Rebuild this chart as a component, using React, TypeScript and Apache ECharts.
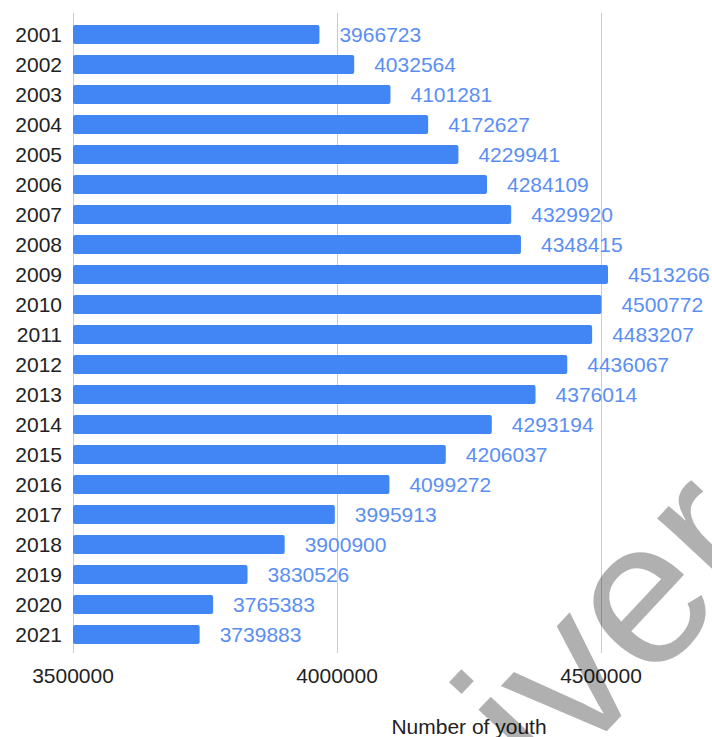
import React, { useEffect, useRef } from "react";
import * as echarts from "echarts";

const years = ["2001","2002","2003","2004","2005","2006","2007","2008","2009","2010","2011","2012","2013","2014","2015","2016","2017","2018","2019","2020","2021"];
const youth = [3966723,4032564,4101281,4172627,4229941,4284109,4329920,4348415,4513266,4500772,4483207,4436067,4376014,4293194,4206037,4099272,3995913,3900900,3830526,3765383,3739883];
const axisMin = 3500000;
const axisMax = 5000000;
const axisStep = 500000;
const axisTitle = "Number of youth";
const watermark = "iver";

const FONT = "'Liberation Sans', Arial, sans-serif";

export default function App() {
  const ref = useRef<HTMLDivElement>(null);
  useEffect(() => {
    if (!ref.current) return;
    const chart = echarts.init(ref.current, null, { renderer: "svg" });
    chart.setOption({
      animation: false,
      backgroundColor: "#ffffff",
      textStyle: { fontFamily: FONT },
      grid: [
        { left: 73, right: -153, top: 13, bottom: 84, outerBoundsMode: "none", containLabel: false },
        { left: 73, right: -153, top: 19.5, bottom: 87.5, outerBoundsMode: "none", containLabel: false },
      ],
      xAxis: [
        {
          gridIndex: 0,
          type: "value",
          min: axisMin,
          max: axisMax,
          interval: axisStep,
          axisLine: { show: false },
          axisTick: { show: false },
          splitLine: { show: true, lineStyle: { color: "#cccccc", width: 1 } },
          axisLabel: {
            fontSize: 21,
            color: "#222222",
            margin: 12,
            fontFamily: FONT,
            showMaxLabel: false,
            formatter: (v: number) => String(v),
          },
          name: axisTitle,
          nameLocation: "middle",
          nameGap: 63,
          nameTextStyle: { fontSize: 21, color: "#222222", fontFamily: FONT },
        },
        {
          gridIndex: 1,
          type: "value",
          min: axisMin,
          max: axisMax,
          interval: axisStep,
          show: false,
          splitLine: { show: false },
        },
      ],
      yAxis: [
        {
          gridIndex: 0,
          type: "value",
          show: false,
          splitLine: { show: false },
        },
        {
          gridIndex: 1,
          type: "category",
          data: years,
          inverse: true,
          axisLine: { show: false },
          axisTick: { show: false },
          axisLabel: { fontSize: 21, color: "#222222", margin: 11, fontFamily: FONT },
        },
      ],
      series: [
        {
          type: "bar",
          xAxisIndex: 1,
          yAxisIndex: 1,
          data: youth,
          barWidth: 19,
          itemStyle: { color: "#4285f4", borderRadius: 2 },
          label: {
            show: true,
            position: "right",
            distance: 20,
            color: "#5b8ef2",
            fontSize: 21,
            fontFamily: FONT,
          },
        },
      ],
      graphic: [
        {
          type: "text",
          x: 571,
          y: 815,
          rotation: (47 * Math.PI) / 180,
          z: 100,
          silent: true,
          style: {
            text: watermark,
            fontSize: 205,
            fontFamily: FONT,
            fill: "rgba(0,0,0,0.31)",
            textAlign: "left",
            textVerticalAlign: "bottom",
          },
        },
      ],
    });
    return () => chart.dispose();
  }, []);
  return (
    <div
      ref={ref}
      style={{ position: "absolute", left: 0, top: 0, width: 712, height: 737, overflow: "hidden" }}
    />
  );
}
